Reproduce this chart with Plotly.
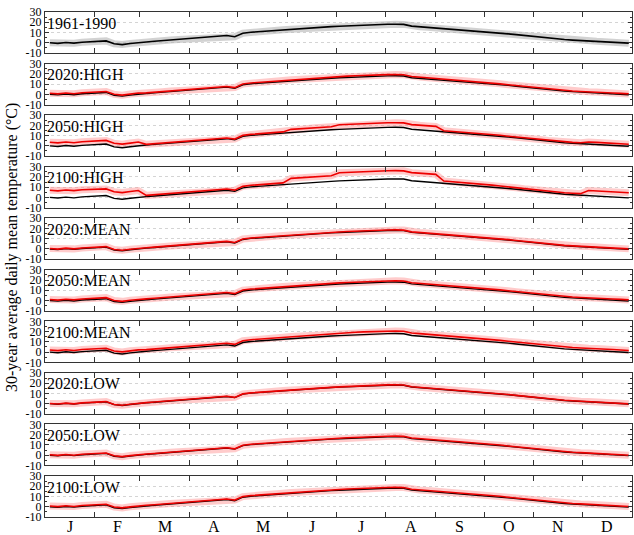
import plotly.graph_objects as go

# ---------------- data ----------------
month_labels = ["J", "F", "M", "A", "M", "J", "J", "A", "S", "O", "N", "D"]
month_days = [31, 28, 31, 30, 31, 30, 31, 31, 30, 31, 30, 31]
panel_labels = ["1961-1990", "2020:HIGH", "2050:HIGH", "2100:HIGH",
                "2020:MEAN", "2050:MEAN", "2100:MEAN",
                "2020:LOW", "2050:LOW", "2100:LOW"]

# day of year of each sample (every 5 days)
day = list(range(3, 366, 5))

# 1961-1990 30-year average daily mean temperature (deg C)
baseline = [
    0.0, -0.6, 0.3, -0.4, 0.5, 0.9,          # Jan
    1.3, 1.8, -1.0, -1.8, -0.8, 0.2,         # Feb
    0.8, 1.4, 2.0, 2.6, 3.1, 3.7,            # Mar
    4.2, 4.8, 5.5, 6.2, 7.0, 5.9,            # Apr
    9.3, 10.3, 10.9, 11.5, 12.1, 12.7,       # May
    13.1, 13.6, 14.1, 14.7, 15.2, 15.7,      # Jun
    16.1, 16.5, 16.9, 17.3, 17.6, 17.8,      # Jul
    18.0, 18.1, 17.9, 16.2, 15.6, 15.0, 14.5,  # Aug
    14.0, 13.4, 12.9, 12.4, 11.8, 11.2,      # Sep
    10.5, 9.6, 8.7, 7.9, 7.0, 6.2,           # Oct
    5.4, 4.5, 3.8, 3.1, 2.6, 2.2,            # Nov
    1.8, 1.4, 1.0, 0.5, 0.1, -0.4,           # Dec
]

# monthly change of each scenario relative to 1961-1990 (deg C)
delta_2020_high = [1.0, 1.0, 0.6, 0.6, 0.8, 1.0, 1.2, 1.2, 0.8, 0.6, 0.6, 0.8]
delta_2050_high = [3.5, 3.5, 0.7, 0.7, 0.9, 3.0, 4.5, 4.5, 0.8, 0.7, 0.8, 2.0]
delta_2100_high = [7.0, 6.5, 1.2, 1.2, 1.5, 5.5, 8.0, 8.0, 2.0, 1.5, 1.5, 5.0]
delta_2020_mean = [0.5, 0.5, 0.4, 0.4, 0.4, 0.5, 0.5, 0.5, 0.4, 0.4, 0.4, 0.5]
delta_2050_mean = [1.0, 1.0, 0.8, 0.8, 0.9, 1.0, 1.1, 1.1, 0.9, 0.8, 0.8, 1.0]
delta_2100_mean = [2.0, 2.0, 1.6, 1.6, 1.8, 2.0, 2.4, 2.4, 2.0, 1.8, 1.8, 2.0]
delta_2020_low = [0.2, 0.2, 0.2, 0.2, 0.2, 0.2, 0.3, 0.3, 0.2, 0.2, 0.2, 0.2]
delta_2050_low = [0.4, 0.4, 0.3, 0.3, 0.4, 0.4, 0.5, 0.5, 0.4, 0.3, 0.3, 0.4]
delta_2100_low = [0.7, 0.7, 0.6, 0.6, 0.6, 0.7, 0.8, 0.8, 0.7, 0.6, 0.6, 0.7]

scenario_deltas = [None, delta_2020_high, delta_2050_high, delta_2100_high,
                   delta_2020_mean, delta_2050_mean, delta_2100_mean,
                   delta_2020_low, delta_2050_low, delta_2100_low]

y_ticks = [-10, 0, 10, 20, 30]
y_tick_text = ["-10", "0", "10", "20", "30"]

# ---------------- helpers ----------------
month_start = [0]
for d in month_days:
    month_start.append(month_start[-1] + d)
boundaries = month_start[1:-1]
month_mid = [month_start[i] + month_days[i] / 2 for i in range(12)]


def month_of(d):
    for i in range(12):
        if d <= month_start[i + 1]:
            return i
    return 11


# ---------------- layout geometry ----------------
W, H = 634, 535
ml, mr, mt, mb = 45, 2, 12, 18
plot_h = H - mt - mb
n = len(panel_labels)
ph = 41.0
gap = (plot_h - n * ph) / (n - 1)

FONT = "Liberation Serif"
fig = go.Figure()
layout = dict(
    width=W, height=H,
    margin=dict(l=ml, r=mr, t=mt, b=mb),
    paper_bgcolor="white", plot_bgcolor="white",
    showlegend=False,
    font=dict(family=FONT, color="black", size=12),
)
annotations = []

for i in range(n):
    k = "" if i == 0 else str(i + 1)
    xa, ya = "x" + k, "y" + k
    top = min(1.0, max(0.0, 1 - i * (ph + gap) / plot_h))
    bot = min(1.0, max(0.0, top - ph / plot_h))

    if i == 0:
        fig.add_trace(go.Scatter(x=day, y=baseline, xaxis=xa, yaxis=ya, mode="lines",
                                 line=dict(color="rgba(180,180,180,0.6)", width=7),
                                 hoverinfo="skip"))
        fig.add_trace(go.Scatter(x=day, y=baseline, xaxis=xa, yaxis=ya, mode="lines",
                                 line=dict(color="black", width=1.6)))
    else:
        dl = scenario_deltas[i]
        scen = [b + dl[month_of(d)] for b, d in zip(baseline, day)]
        fig.add_trace(go.Scatter(x=day, y=scen, xaxis=xa, yaxis=ya, mode="lines",
                                 line=dict(color="rgba(255,140,140,0.45)", width=7),
                                 hoverinfo="skip"))
        fig.add_trace(go.Scatter(x=day, y=baseline, xaxis=xa, yaxis=ya, mode="lines",
                                 line=dict(color="black", width=1.4)))
        fig.add_trace(go.Scatter(x=day, y=scen, xaxis=xa, yaxis=ya, mode="lines",
                                 line=dict(color="#ee0000", width=1.6)))

    layout["xaxis" + k] = dict(
        domain=[0, 1], anchor=ya, range=[0, 365],
        tickvals=boundaries, ticks="inside", ticklen=5, tickcolor="#333",
        showticklabels=False, showgrid=False, zeroline=False,
        showline=True, linecolor="#333", linewidth=1, mirror="ticks",
    )
    layout["yaxis" + k] = dict(
        domain=[bot, top], anchor=xa, range=[-10, 30],
        tickvals=y_ticks, ticktext=y_tick_text, ticks="inside", ticklen=4, tickcolor="#333",
        minor=dict(dtick=5, ticks="inside", ticklen=2, tickcolor="#333", showgrid=False),
        showgrid=True, gridcolor="#d4d4d4", griddash="dot", gridwidth=1,
        zeroline=False, showline=True, linecolor="#333", linewidth=1, mirror="ticks",
        tickfont=dict(family=FONT, size=12, color="black"),
    )
    annotations.append(dict(
        text=panel_labels[i], xref="paper", yref="paper",
        x=0.002, y=top - 1.5 / plot_h, xanchor="left", yanchor="top",
        showarrow=False, font=dict(family=FONT, size=16, color="black"),
        borderpad=0,
    ))

# month labels under the last panel
for lab, mid in zip(month_labels, month_mid):
    annotations.append(dict(
        text=lab, xref="x" + str(n), yref="paper", x=mid, y=-9 / plot_h,
        xanchor="center", yanchor="middle", showarrow=False,
        font=dict(family=FONT, size=16, color="black"),
    ))

# y-axis title
annotations.append(dict(
    text="30-year average daily mean temperature (°C)",
    xref="paper", yref="paper", x=-33 / (W - ml - mr), y=1 - (248 - mt) / plot_h,
    xanchor="center", yanchor="middle", textangle=-90, showarrow=False,
    font=dict(family=FONT, size=16, color="black"),
))

layout["annotations"] = annotations
fig.update_layout(**layout)
fig.write_html("out.html")
